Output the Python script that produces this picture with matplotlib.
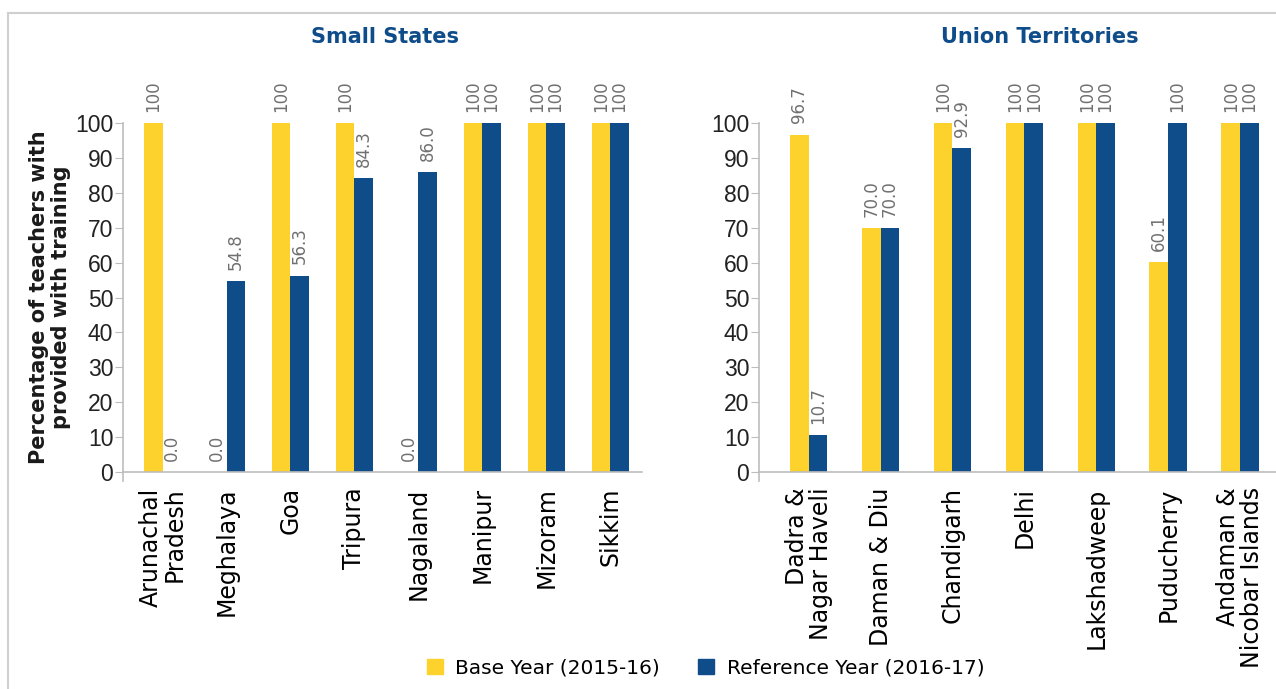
import numpy as np
import matplotlib.pyplot as plt
from matplotlib.lines import Line2D
from matplotlib.patches import Patch

small_states = ["Arunachal\nPradesh", "Meghalaya", "Goa", "Tripura",
                "Nagaland", "Manipur", "Mizoram", "Sikkim"]
small_base = [100, 0.0, 100, 100, 0.0, 100, 100, 100]
small_ref = [0.0, 54.8, 56.3, 84.3, 86.0, 100, 100, 100]

uts = ["Dadra &\nNagar Haveli", "Daman & Diu", "Chandigarh", "Delhi",
       "Lakshadweep", "Puducherry", "Andaman &\nNicobar Islands"]
ut_base = [96.7, 70.0, 100, 100, 100, 60.1, 100]
ut_ref = [10.7, 70.0, 92.9, 100, 100, 100, 100]

yellow = "#FDD22C"
blue = "#0F4C8A"
grey = "#BDBDBD"
label_grey = "#707070"

plt.rcParams['font.family'] = ['DejaVu Sans']
num_font = ['Liberation Sans', 'DejaVu Sans']

fig = plt.figure(figsize=(12.76, 6.89), dpi=100)
ax1 = fig.add_axes([123 / 1276, 1 - 472 / 689, (642 - 123) / 1276, 349 / 689])
ax2 = fig.add_axes([759 / 1276, 1 - 472 / 689, (1276 - 759) / 1276, 349 / 689])


def fmt(v):
    return "100" if v == 100 else f"{v:.1f}"


def draw_panel(ax, cats, base, ref, width, xmin):
    x = np.arange(len(cats))
    ax.bar(x - width / 2, base, width, color=yellow)
    ax.bar(x + width / 2, ref, width, color=blue)
    for xs, vals in ((x - width / 2, base), (x + width / 2, ref)):
        for xi, v in zip(xs, vals):
            ax.annotate(fmt(v), (xi, v), xytext=(0, 8), textcoords="offset points",
                        rotation=90, ha="center", va="bottom", fontsize=12,
                        color=label_grey, annotation_clip=False)
    ax.set_xlim(xmin, len(cats) - 0.5)
    ax.set_ylim(0, 100)
    ax.set_yticks(range(0, 101, 10))
    ax.set_xticks(x)
    ax.set_xticklabels(cats, rotation=90, fontsize=17, va="top", ha="center",
                       multialignment="right", linespacing=1.0)
    ax.tick_params(axis="x", length=0, pad=11)
    ax.tick_params(axis="y", length=6, color=grey, pad=1)
    for t in ax.get_yticklabels():
        t.set_family(num_font)
        t.set_fontsize(16.5)
        t.set_color("#222222")
    for s in ("top", "right"):
        ax.spines[s].set_visible(False)
    for s in ("left", "bottom"):
        ax.spines[s].set_color(grey)
        ax.spines[s].set_linewidth(1.2)
    # short stub of the y axis below the baseline
    ax.plot([xmin, xmin], [0, -2.5], color=grey, lw=1.2, clip_on=False)


draw_panel(ax1, small_states, small_base, small_ref, 0.29, -0.62)
draw_panel(ax2, uts, ut_base, ut_ref, 0.26, -0.69)

ax1.set_ylabel("Percentage of teachers with\nprovided with training",
               fontsize=15, fontweight="bold", labelpad=3, linespacing=1.1,
               color="#1a1a1a")

fig.text(385 / 1276, 1 - 37 / 689, "Small States", ha="center", va="center",
         fontsize=15, fontweight="bold", color=blue)
fig.text(1040 / 1276, 1 - 37 / 689, "Union Territories", ha="center", va="center",
         fontsize=15, fontweight="bold", color=blue)

handles = [Patch(color=yellow), Patch(color=blue)]
fig.legend(handles, ["Base Year (2015-16)", "Reference Year (2016-17)"],
           loc="center", bbox_to_anchor=(0.553, 1 - 668 / 689), ncol=2,
           frameon=False, fontsize=14.5, handlelength=0.8, handleheight=0.8,
           handletextpad=0.6, columnspacing=1.9)

# outer frame
fig.add_artist(Line2D([8 / 1276, 1], [1 - 13 / 689, 1 - 13 / 689],
                      color="#CFCFCF", lw=1.5, transform=fig.transFigure))
fig.add_artist(Line2D([8 / 1276, 8 / 1276], [0, 1 - 13 / 689],
                      color="#CFCFCF", lw=1.5, transform=fig.transFigure))

fig.savefig("out.png", dpi=100)
